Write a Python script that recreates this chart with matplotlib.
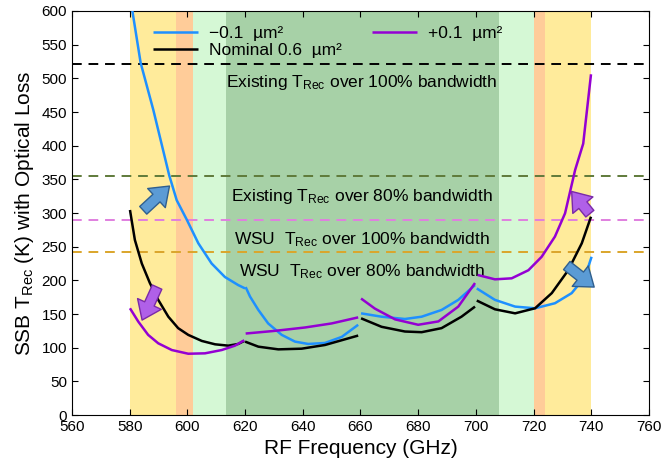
import matplotlib
matplotlib.use("Agg")
import matplotlib.pyplot as plt

plt.rcParams["font.family"] = ["Liberation Sans", "DejaVu Sans"]
plt.rcParams["mathtext.fontset"] = "custom"
plt.rcParams["mathtext.rm"] = "Liberation Sans"
plt.rcParams["mathtext.it"] = "Liberation Sans:italic"

# curves: each series is split into 4 LO-band segments (GHz, K)
minus_f = [
    [580, 580.9, 583.8, 588.2, 593.7, 596.3, 599.8, 603.8, 608.4, 613, 617.6, 620],
    [620.2, 621.7, 624.6, 628, 632.7, 637.3, 641.9, 647.7, 653.5, 659.2],
    [660.2, 667.3, 675.4, 681.2, 688.1, 693.9, 699.7],
    [700.3, 706.6, 713.6, 720.5, 727.4, 733.2, 737.8, 740.1],
]
minus_t = [
    [625, 601, 523, 453, 356, 319, 290, 255, 225, 205, 193, 188],
    [190, 176, 156, 136, 119, 109, 105.5, 107, 116, 134],
    [151, 146, 142.6, 146, 156, 171, 193],
    [188, 171, 161, 158.5, 166, 181, 205, 235],
]
nom_f = [
    [580.1, 581.8, 584.2, 587.0, 589.9, 593.4, 596.8, 600.3, 605, 609.6, 614.2, 617.6, 619.7],
    [620, 624.6, 631.5, 639.6, 647.7, 659.2],
    [660.2, 667.3, 675.4, 681.2, 688.1, 695, 699.7],
    [700.3, 706.6, 713.6, 720.5, 726.3, 732, 736.7, 739.9],
]
nom_t = [
    [304.5, 260, 225, 196, 171, 146, 129, 119, 110, 105, 103, 105.5, 110],
    [109, 101.5, 97.5, 98.5, 104, 118],
    [143.6, 131, 124, 123, 129, 146, 161],
    [170, 157, 151, 158.5, 181, 215, 255, 294.5],
]
plus_f = [
    [580.1, 583, 586.4, 589.9, 594.6, 600.3, 606.1, 611.9, 616.5, 619.7],
    [620.2, 630.4, 640.8, 650, 659.2],
    [660.2, 665, 672, 680, 687, 693.9, 699.7],
    [700.6, 706.6, 712.4, 718.2, 722.8, 727.4, 730.9, 734.4, 737.2, 739.9],
]
plus_t = [
    [158.5, 138.6, 119, 106.5, 96.5, 91, 91.6, 96.5, 103, 111],
    [121, 125, 130, 136, 145],
    [173, 158, 142, 134, 139, 161, 196],
    [208, 201.5, 203, 215, 235, 265, 299.5, 364, 403, 506],
]

# receiver-noise requirement levels (K)
req_levels = [522, 355, 290, 242]
req_colors = ["black", "#5f7a3a", "#e07fdf", "#dba52a"]
req_labels = [
    "Existing T$_{\\mathrm{Rec}}$ over 100% bandwidth",
    "Existing T$_{\\mathrm{Rec}}$ over 80% bandwidth",
    "WSU  T$_{\\mathrm{Rec}}$ over 100% bandwidth",
    "WSU  T$_{\\mathrm{Rec}}$ over 80% bandwidth",
]
label_y = [494, 324, 261, 213]

# shaded bands (GHz)
bands = [
    (580, 740, "#ffeb9b"),
    (596, 602, "#ffcc99"),
    (720, 724, "#ffcc99"),
    (602, 613.5, "#d5f8d5"),
    (708, 720, "#d5f8d5"),
    (613.5, 708, "#a7d1a7"),
]

fig = plt.figure(figsize=(6.64, 4.70), dpi=100)
ax = fig.add_axes([0.1084, 0.117, 0.869, 0.8596])

for lo, hi, c in bands:
    ax.axvspan(lo, hi, color=c, lw=0, zorder=0)

for lvl, c in zip(req_levels, req_colors):
    ax.axhline(lvl, color=c, ls=(0, (5, 3.5)), lw=1.4, zorder=1)

for txt, y in zip(req_labels, label_y):
    ax.text(660.5, y, txt, ha="center", va="center", fontsize=12.5, zorder=2)

for fs, ts, c, lab in [(minus_f, minus_t, "#1e90ff", "\u22120.1  \u00b5m\u00b2"),
                       (nom_f, nom_t, "black", "Nominal 0.6  \u00b5m\u00b2"),
                       (plus_f, plus_t, "#9400d3", "+0.1  \u00b5m\u00b2")]:
    for i, (f, t) in enumerate(zip(fs, ts)):
        ax.plot(f, t, color=c, lw=1.8, zorder=3, solid_capstyle="butt",
                label=lab if i == 0 else None)

# arrows (tail -> head)
for tail, head, fc, ec in [((584.7, 304), (593.8, 340), "#5b9bd5", "#2f5f8f"),
                           ((731.5, 222), (741.0, 190), "#5b9bd5", "#2f5f8f"),
                           ((589.5, 190), (584.3, 141), "#b060e8", "#7a2aa8"),
                           ((739.5, 299), (733.2, 332), "#b060e8", "#7a2aa8")]:
    ax.annotate("", xy=head, xytext=tail, zorder=4,
                arrowprops=dict(arrowstyle="simple,head_width=1.25,head_length=0.85,tail_width=0.5",
                                fc=fc, ec=ec, lw=1, mutation_scale=15,
                                shrinkA=0, shrinkB=0))

ax.set_xlim(560, 760)
ax.set_ylim(0, 600)
ax.set_xticks(range(560, 761, 20))
ax.set_yticks(range(0, 601, 50))
ax.tick_params(direction="in", top=True, right=True, labelsize=11, length=4)
ax.set_xlabel("RF Frequency (GHz)", fontsize=15)
ax.set_ylabel("SSB T$_{\\mathrm{Rec}}$ (K) with Optical Loss", fontsize=15)

ax.legend(ncol=2, loc="upper left", bbox_to_anchor=(0.141, 0.964), frameon=False,
          fontsize=12.5, handlelength=2.6, handletextpad=0.6, columnspacing=1.75,
          labelspacing=0.15, borderpad=0, borderaxespad=0)

fig.savefig("out.png", dpi=100)
